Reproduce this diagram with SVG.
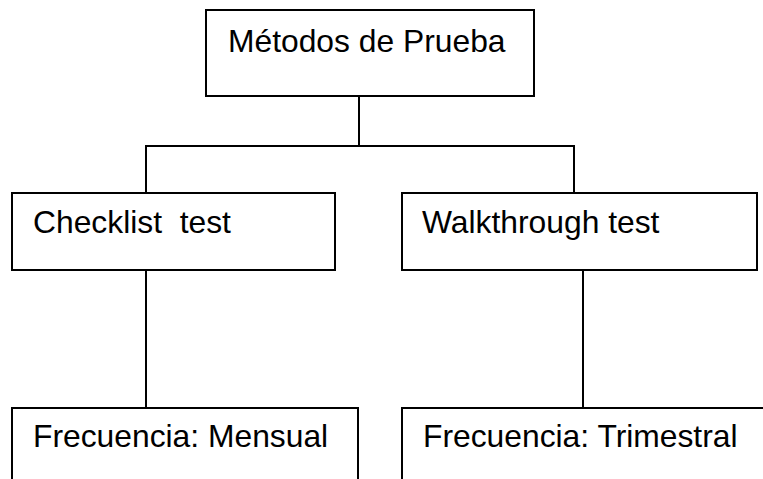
<svg xmlns="http://www.w3.org/2000/svg" width="763" height="479" viewBox="0 0 763 479">
<style>
.box{fill:#fff;stroke:#000;stroke-width:2}
.ln{fill:none;stroke:#000;stroke-width:2}
text{font-family:"Liberation Sans",Arial,sans-serif;font-size:31.8px;fill:#000;white-space:pre}
</style>
<rect width="763" height="479" fill="#fff"/>
<g id="connectors">
<polyline class="ln" points="359,96 359,146"/>
<polyline class="ln" points="146,193 146,146 574,146 574,193"/>
<polyline class="ln" points="146,270 146,408"/>
<polyline class="ln" points="583,270 583,408"/>
</g>
<g id="metodos">
<rect class="box" x="206" y="10" width="328" height="86"/>
<text x="228" y="52">Métodos de Prueba</text>
</g>
<g id="checklist">
<rect class="box" x="12" y="193" width="323" height="77"/>
<text x="33" y="233" xml:space="preserve">Checklist  test</text>
</g>
<g id="walkthrough">
<rect class="box" x="402" y="193" width="355" height="77"/>
<text x="422" y="233">Walkthrough test</text>
</g>
<g id="mensual">
<polyline class="ln" points="12,480 12,408 358,408 358,480"/>
<text x="33" y="447">Frecuencia: Mensual</text>
</g>
<g id="trimestral">
<polyline class="ln" points="402,480 402,408 764,408"/>
<text x="423" y="447">Frecuencia: Trimestral</text>
</g>
</svg>
